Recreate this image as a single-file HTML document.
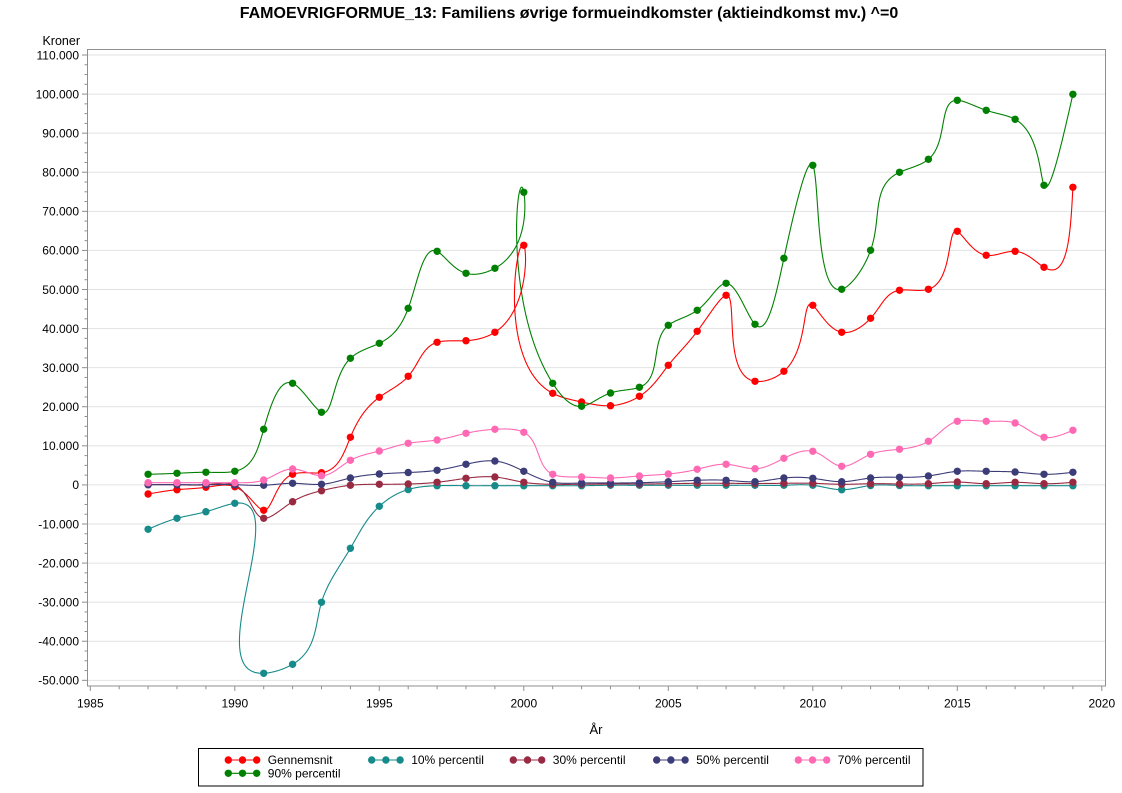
<!DOCTYPE html>
<html>
<head>
<meta charset="utf-8">
<style>
html,body{margin:0;padding:0;background:#fff;}
body{width:1122px;height:793px;overflow:hidden;}
svg{display:block;}
text{font-family:"Liberation Sans",Arial,sans-serif;fill:#000;}
</style>
</head>
<body>
<svg id="s" width="1122" height="793" viewBox="0 0 1122 793" xmlns="http://www.w3.org/2000/svg">
<rect x="0" y="0" width="1122" height="793" fill="#fff"/>
<text x="569" y="18" font-size="16" font-weight="bold" text-anchor="middle">FAMOEVRIGFORMUE_13: Familiens øvrige formueindkomster (aktieindkomst mv.) ^=0</text>
<text x="80" y="45" font-size="12.5" text-anchor="end">Kroner</text>
<text x="596" y="734" font-size="13" text-anchor="middle">År</text>
<g id="grid"></g>
<rect x="87.5" y="49.5" width="1018" height="636.5" fill="none" stroke="#8f8f8f" stroke-width="1"/>
<g id="axes"></g>
<g id="plot"></g>
<rect x="198.5" y="748.5" width="724.5" height="37.5" fill="none" stroke="#000" stroke-width="1"/>
<g id="legend"></g>
</svg>
<script>
(function(){
var NS="http://www.w3.org/2000/svg";
function el(tag,attrs,parent,txt){var e=document.createElementNS(NS,tag);for(var k in attrs)e.setAttribute(k,attrs[k]);if(txt!==undefined)e.textContent=txt;parent.appendChild(e);return e;}
var grid=document.getElementById('grid'),axes=document.getElementById('axes'),plot=document.getElementById('plot'),leg=document.getElementById('legend');
function yv(v){return 55+(110000-v)*0.0039083;}
var AX='#8f8f8f';
for(var v=-50000;v<=110000;v+=10000){
  var y=yv(v);
  el('line',{x1:88,x2:1105,y1:y,y2:y,stroke:'#e2e2e2','stroke-width':1},grid);
  el('line',{x1:82,x2:87,y1:y,y2:y,stroke:AX,'stroke-width':1},axes);
  var s=v===0?'0':(v<0?'-':'')+(Math.abs(v)/1000)+'.000';
  el('text',{x:79,y:y+4.3,'font-size':12,'text-anchor':'end'},axes,s);
}
for(var v=-50000;v<110000;v+=2500){
  if(v%10000===0)continue;
  var y=yv(v);
  el('line',{x1:84.5,x2:87,y1:y,y2:y,stroke:AX,'stroke-width':1},axes);
}
function xv(yr){return 90.3+(yr-1985)*28.9;}
for(var yr=1985;yr<=2020;yr++){
  var x=xv(yr);
  if(yr%5===0){
    el('line',{x1:x,x2:x,y1:686,y2:691,stroke:AX,'stroke-width':1},axes);
    el('text',{x:x,y:707.5,'font-size':12,'text-anchor':'middle'},axes,String(yr));
  } else {
    el('line',{x1:x,x2:x,y1:686,y2:689.3,stroke:AX,'stroke-width':1},axes);
  }
}
var series=[
 {c:'#ff0000',n:'Gennemsnit',y:[494,489.7,487.3,486.7,510.3,474.3,472.7,437.3,397.3,376.3,342.3,340.7,332.3,245.3,393.3,402,405.7,396.3,365.3,331.3,295.3,381.3,371.3,305.3,332.3,318.3,290.3,289.3,231.3,255.3,251.3,267.3,187.3]},
 {c:'#178a8a',n:'10% percentil',y:[529.3,518.3,511.7,503.3,673.3,664.3,602.3,548.3,506.3,489.5,485.7,485.7,485.7,485.7,485.7,485.7,485.3,485.3,485.3,485.3,485.3,485.3,485.3,485.3,489.7,485.5,485.5,485.7,485.7,485.7,485.7,485.7,485.7]},
 {c:'#982a42',n:'30% percentil',y:[484.7,484.7,484.7,485,518.3,501.7,490.7,485.3,484.3,484,482.3,478.3,477,482.3,484.3,484.3,484,484,483.7,483.3,483.3,483.5,483.3,483.3,484.3,483.7,484,483.7,482,483.7,482.3,483.7,482.3]},
 {c:'#3c3c78',n:'50% percentil',y:[484.7,484.7,484.7,484.7,485.3,483.3,484.3,478,474,472.5,470.3,464.3,461,471.3,482.3,483,483,482.7,481.7,480.3,480.3,481.7,478,478.3,481.7,478,477.3,476,471.3,471.3,472,474.3,472.3]},
 {c:'#ff69b4',n:'70% percentil',y:[482.7,482.7,482.7,482.7,480,469,475.7,460.3,451,443.3,440,433.3,429.3,432.3,474.3,477,478,476,474,469.3,464.3,468.7,458.3,451.3,466.3,454.3,449.3,441.3,421.3,421.3,423,437.3,430.3]},
 {c:'#008000',n:'90% percentil',y:[474.3,473.3,472.3,471.3,429.3,383.3,412.3,358.3,343.3,308.3,251.3,273.3,268.3,192.3,383.3,406.3,393,387.3,325.3,310.3,283.3,324.3,258.3,165.3,289.3,250.3,172.3,159.3,100.3,110.3,119.3,185.3,94.3]}
];
var KY=1.4;
function natM(t,v){
  var n=t.length,h=[],i;
  for(i=0;i<n-1;i++)h.push(t[i+1]-t[i]);
  var a=[],b=[],c=[],d=[];
  for(i=1;i<n-1;i++){a.push(h[i-1]);b.push(2*(h[i-1]+h[i]));c.push(h[i]);d.push(6*((v[i+1]-v[i])/h[i]-(v[i]-v[i-1])/h[i-1]));}
  var m=b.length;
  for(i=1;i<m;i++){var w=a[i]/b[i-1];b[i]-=w*c[i-1];d[i]-=w*d[i-1];}
  var M=[];for(i=0;i<n;i++)M.push(0);
  for(i=m-1;i>=0;i--){M[i+1]=(d[i]-c[i]*M[i+2])/b[i];}
  return {M:M,h:h};
}
function ev(v,S,i,s){
  var h=S.h[i],M=S.M;
  return M[i]*Math.pow(h-s,3)/(6*h)+M[i+1]*Math.pow(s,3)/(6*h)+(v[i]/h-M[i]*h/6)*(h-s)+(v[i+1]/h-M[i+1]*h/6)*s;
}
series.forEach(function(se){
  var xs=[],ys=se.y,t=[0],i;
  for(i=0;i<ys.length;i++)xs.push(xv(1987+i));
  for(i=1;i<ys.length;i++){var dx=xs[i]-xs[i-1],dy=(ys[i]-ys[i-1])*KY;t.push(t[i-1]+Math.sqrt(dx*dx+dy*dy));}
  var SX=natM(t,xs),SY=natM(t,ys);
  var d='M'+xs[0].toFixed(2)+','+ys[0].toFixed(2);
  for(i=0;i<ys.length-1;i++){
    var h=SX.h[i],N=40;
    for(var k=1;k<=N;k++){var s=h*k/N;d+='L'+ev(xs,SX,i,s).toFixed(2)+','+ev(ys,SY,i,s).toFixed(2);}
  }
  el('path',{d:d,fill:'none',stroke:se.c,'stroke-width':1.1,'stroke-linejoin':'round'},plot);
  for(i=0;i<ys.length;i++)el('circle',{cx:xs[i],cy:ys[i],r:3.7,fill:se.c},plot);
});
var cols=[228.3,371.7,513.3,656.7,798.3];
series.forEach(function(se,idx){
  var x0,yc;
  if(idx<5){x0=cols[idx];yc=760;}else{x0=cols[0];yc=773.3;}
  el('line',{x1:x0,x2:x0+28.4,y1:yc,y2:yc,stroke:se.c,'stroke-width':1.1},leg);
  [0,14.2,28.4].forEach(function(o){el('circle',{cx:x0+o,cy:yc,r:3.7,fill:se.c},leg);});
  el('text',{x:x0+39.5,y:yc+4.2,'font-size':12},leg,se.n);
});
})();
</script>
</body>
</html>
